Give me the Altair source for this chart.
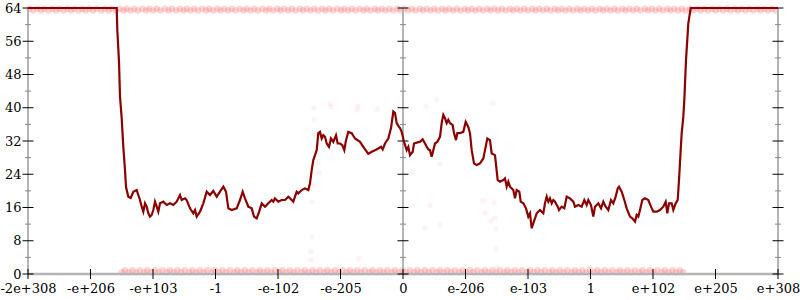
import altair as alt
import pandas as pd

# ---- data ----
x_tick_values = [-6, -5, -4, -3, -2, -1, 0, 1, 2, 3, 4, 5, 6]
x_tick_labels = ["-2e+308", "-e+206", "-e+103", "-1", "-e-102", "-e-205", "0",
                 "e-206", "e-103", "1", "e+102", "e+205", "e+308"]
y_major = [0, 8, 16, 24, 32, 40, 48, 56, 64]
y_minor = [4, 12, 20, 28, 36, 44, 52, 60]
axis_x_positions = [-6, 0, 6]

line_x = [
    -6, -4.581, -4.571, -4.544, -4.528, -4.501, -4.475, -4.448, -4.432, -4.395,
    -4.357, -4.315, -4.261, -4.235, -4.208, -4.181, -4.155, -4.128, -4.101, -4.075,
    -4.048, -4.021, -3.995, -3.968, -3.941, -3.915, -3.888, -3.835, -3.781, -3.728,
    -3.675, -3.621, -3.568, -3.541, -3.488, -3.461, -3.408, -3.355, -3.328, -3.301,
    -3.248, -3.195, -3.141, -3.088, -3.035, -2.981, -2.928, -2.875, -2.832, -2.795,
    -2.741, -2.661, -2.608, -2.565, -2.528, -2.475, -2.421, -2.384, -2.341, -2.304,
    -2.261, -2.208, -2.155, -2.101, -2.075, -2.048, -1.995, -1.941, -1.888, -1.835,
    -1.781, -1.755, -1.728, -1.701, -1.675, -1.621, -1.568, -1.515, -1.488, -1.461,
    -1.435, -1.381, -1.355, -1.328, -1.301, -1.275, -1.248, -1.221, -1.184, -1.152,
    -1.115, -1.072, -1.045, -1.008, -0.971, -0.939, -0.912, -0.875, -0.821, -0.768,
    -0.688, -0.635, -0.555, -0.501, -0.448, -0.395, -0.352, -0.325, -0.288, -0.235,
    -0.192, -0.155, -0.128, -0.101, -0.064, -0.048, -0.021, 0.016, 0.059, 0.085,
    0.112, 0.155, 0.176, 0.219, 0.272, 0.315, 0.352, 0.379, 0.405, 0.432,
    0.459, 0.485, 0.512, 0.549, 0.592, 0.619, 0.645, 0.672, 0.699, 0.725,
    0.752, 0.795, 0.816, 0.848, 0.869, 0.912, 0.965, 1.003, 1.045, 1.072,
    1.099, 1.136, 1.179, 1.232, 1.285, 1.312, 1.349, 1.392, 1.419, 1.472,
    1.515, 1.552, 1.605, 1.632, 1.659, 1.685, 1.712, 1.765, 1.792, 1.819,
    1.861, 1.883, 1.925, 1.968, 2.005, 2.032, 2.059, 2.085, 2.112, 2.139,
    2.192, 2.245, 2.272, 2.299, 2.325, 2.352, 2.379, 2.405, 2.432, 2.475,
    2.496, 2.539, 2.581, 2.619, 2.672, 2.725, 2.752, 2.805, 2.859, 2.901,
    2.939, 2.965, 3.008, 3.045, 3.072, 3.125, 3.168, 3.205, 3.243, 3.285,
    3.328, 3.365, 3.403, 3.435, 3.456, 3.499, 3.541, 3.579, 3.632, 3.669,
    3.712, 3.739, 3.765, 3.792, 3.829, 3.872, 3.925, 3.968, 4.005, 4.059,
    4.112, 4.165, 4.203, 4.229, 4.256, 4.299, 4.325, 4.363, 4.395, 4.416,
    4.437, 4.459, 4.485, 4.501, 4.528, 4.565, 4.603, 6,
]
line_y = [
    64, 64, 58.7, 51.1, 42.7, 37.5, 30.6, 25.0, 21.0, 18.6,
    18.3, 19.8, 20.2, 19.0, 17.8, 16.2, 15.0, 17.0, 16.2, 14.6,
    13.8, 14.2, 15.4, 17.4, 16.2, 15.0, 17.0, 17.4, 16.6, 17.0,
    16.6, 17.4, 19.0, 17.8, 18.2, 17.8, 15.8, 14.6, 15.4, 13.8,
    15.0, 17.0, 19.8, 19.0, 20.0, 18.6, 19.8, 21.0, 19.8, 15.8,
    15.4, 15.8, 17.8, 19.8, 18.2, 16.2, 15.8, 13.8, 13.4, 14.9,
    17.0, 16.2, 17.0, 17.8, 17.4, 18.2, 17.4, 17.8, 17.8, 18.6,
    17.8, 17.4, 18.6, 19.8, 19.4, 20.2, 20.6, 20.2, 21.8, 25.0,
    27.4, 29.8, 33.9, 34.2, 32.6, 33.4, 33.0, 31.4, 30.6, 32.6,
    31.8, 33.4, 31.4, 31.4, 31.0, 29.8, 32.2, 34.2, 33.9, 32.6,
    31.8, 30.6, 28.9, 29.4, 29.8, 30.2, 30.6, 30.0, 31.4, 32.6,
    35.1, 39.1, 38.7, 36.3, 35.4, 35.1, 34.2, 31.8, 29.8, 30.6,
    28.6, 29.4, 31.4, 31.6, 31.8, 32.4, 31.4, 30.6, 30.0, 29.8,
    28.2, 29.8, 31.4, 31.8, 33.0, 36.3, 38.3, 37.5, 36.3, 37.1,
    36.3, 35.8, 33.9, 32.2, 33.9, 33.9, 34.2, 36.6, 35.4, 33.9,
    29.8, 26.6, 26.2, 26.6, 27.8, 29.8, 32.6, 32.2, 29.0, 28.6,
    22.6, 22.2, 22.6, 23.0, 21.0, 22.2, 21.0, 20.2, 18.2, 20.2,
    19.8, 17.4, 17.0, 15.8, 13.8, 14.6, 11.0, 12.2, 13.4, 14.6,
    15.4, 14.6, 17.0, 18.6, 17.4, 18.2, 17.0, 17.8, 17.4, 16.2,
    15.4, 16.2, 15.8, 18.6, 18.2, 17.4, 16.2, 16.6, 16.2, 17.8,
    16.6, 17.8, 16.6, 13.8, 16.2, 17.0, 15.8, 17.4, 16.2, 15.4,
    17.8, 17.0, 18.6, 20.6, 21.0, 19.8, 17.8, 15.8, 13.8, 13.4,
    12.6, 14.2, 13.8, 15.4, 17.8, 18.2, 17.8, 16.2, 15.0, 15.0,
    15.4, 16.2, 17.4, 14.6, 17.0, 17.0, 15.4, 17.0, 17.8, 22.6,
    28.2, 33.9, 37.8, 41.9, 51.5, 60.3, 64, 64,
]

# sample points: band at the top (error ~64) and at the bottom (error ~0)
top_x = [-5.98, -5.85, -5.74, -5.61, -5.5, -5.37, -5.26, -5.13, -5.02, -4.9,
         -4.77, -4.66, -4.53, -4.42, -4.3, -4.17, -4.06, -3.94, -3.81, -3.7,
         -3.57, -3.46, -3.34, -3.21, -3.1, -2.97, -2.86, -2.74, -2.61, -2.5,
         -2.38, -2.25, -2.14, -2.01, -1.9, -1.78, -1.65, -1.54, -1.42, -1.29,
         -1.18, -1.05, -0.94, -0.82, -0.69, -0.58, -0.45, -0.34, -0.22, -0.09,
         0.02, 0.14, 0.27, 0.38, 0.5, 0.63, 0.74, 0.86, 0.99, 1.1,
         1.22, 1.35, 1.46, 1.58, 1.71, 1.82, 1.94, 2.07, 2.18, 2.3,
         2.43, 2.54, 2.66, 2.79, 2.9, 3.02, 3.15, 3.26, 3.38, 3.51,
         3.62, 3.74, 3.87, 3.98, 4.1, 4.23, 4.34, 4.46, 4.59, 4.7,
         4.82, 4.95, 5.06, 5.18, 5.31, 5.42, 5.54, 5.67, 5.78, 5.9]
top_x2 = [-5.92, -5.79, -5.67, -5.55, -5.43, -5.31, -5.19, -5.08, -4.96, -4.83,
          -4.71, -4.59, -4.47, -4.36, -4.24, -4.11, -4.0, -3.88, -3.75, -3.63,
          -3.51, -3.4, -3.28, -3.15, -3.04, -2.92, -2.8, -2.68, -2.55, -2.44,
          -2.32, -2.19, -2.08, -1.96, -1.84, -1.72, -1.6, -1.48, -1.36, -1.24,
          -1.12, -0.99, -0.88, -0.76, -0.63, -0.52, -0.4, -0.28, -0.16, -0.04,
          0.08, 0.2, 0.32, 0.44, 0.56, 0.68, 0.8, 0.92, 1.04, 1.16,
          1.28, 1.4, 1.52, 1.64, 1.76, 1.88, 2.0, 2.12, 2.24, 2.36,
          2.48, 2.6, 2.72, 2.84, 2.96, 3.08, 3.2, 3.32, 3.44, 3.56,
          3.68, 3.8, 3.92, 4.04, 4.16, 4.28, 4.4, 4.52, 4.64, 4.76,
          4.88, 5.0, 5.12, 5.24, 5.36, 5.48, 5.6, 5.72, 5.84, 5.96]
top_y = 63.8
top_y2 = 63.4
bottom_x = [-4.5, -4.39, -4.27, -4.14, -4.03, -3.91, -3.78, -3.67, -3.55, -3.42,
            -3.31, -3.19, -3.06, -2.95, -2.83, -2.7, -2.59, -2.47, -2.34, -2.23,
            -2.11, -1.98, -1.87, -1.75, -1.62, -1.51, -1.39, -1.26, -1.15, -1.03,
            -0.9, -0.79, -0.67, -0.54, -0.43, -0.31, -0.18, -0.07, 0.05, 0.18,
            0.29, 0.41, 0.54, 0.65, 0.77, 0.9, 1.01, 1.13, 1.26, 1.37,
            1.49, 1.62, 1.73, 1.85, 1.98, 2.09, 2.21, 2.34, 2.45, 2.57,
            2.7, 2.81, 2.93, 3.06, 3.17, 3.29, 3.42, 3.53, 3.65, 3.78,
            3.89, 4.01, 4.14, 4.25, 4.37, 4.48]
bottom_x2 = [-4.45, -4.33, -4.21, -4.09, -3.97, -3.85, -3.73, -3.61, -3.49, -3.37,
             -3.25, -3.13, -3.01, -2.89, -2.77, -2.65, -2.53, -2.41, -2.29, -2.17,
             -2.05, -1.93, -1.81, -1.69, -1.57, -1.45, -1.33, -1.21, -1.09, -0.97,
             -0.85, -0.73, -0.61, -0.49, -0.37, -0.25, -0.13, -0.01, 0.11, 0.23,
             0.35, 0.47, 0.59, 0.71, 0.83, 0.95, 1.07, 1.19, 1.31, 1.43,
             1.55, 1.67, 1.79, 1.91, 2.03, 2.15, 2.27, 2.39, 2.51, 2.63,
             2.75, 2.87, 2.99, 3.11, 3.23, 3.35, 3.47, 3.59, 3.71, 3.83,
             3.95, 4.07, 4.19, 4.31, 4.43]
bottom_y = 0.4
bottom_y2 = 0.9

scatter_x = [-1.424, -1.168, -1.152, -0.72, -0.736, -0.416, -1.424, -1.424, -1.36, -1.344,
             -1.44, -1.456, -1.456, -1.472, -1.472, -0.704, 0.144, 0.368, 0.544, 1.44,
             0.592, 0.432, 0.352, 0.592, 1.28, 1.456, 1.312, 1.408, 1.472, 1.488,
             1.488, 1.504]
scatter_y = [39.9, 40.9, 40.2, 40.4, 39.5, 39.5, 37.1, 33.4, 26.7, 24.3,
             21.4, 17.3, 8.9, 5.5, 3.4, 3.8, 24.3, 40.4, 41.9, 41.1,
             26.5, 16.4, 11.1, 11.8, 17.6, 17.1, 14.7, 12.8, 13.5, 10.8,
             6.0, 1.7]

# ---- tables ----
line_df = pd.DataFrame({"x": line_x, "y": line_y, "i": range(len(line_x))})
band_df = pd.DataFrame({
    "x": top_x + top_x2 + bottom_x + bottom_x2,
    "y": [top_y] * len(top_x) + [top_y2] * len(top_x2)
         + [bottom_y] * len(bottom_x) + [bottom_y2] * len(bottom_x2),
})
scatter_df = pd.DataFrame({"x": scatter_x, "y": scatter_y})
vaxis_df = pd.DataFrame({"x": axis_x_positions, "y0": [0] * 3, "y1": [64] * 3})
haxis_df = pd.DataFrame({"x0": [-6], "x1": [6], "y": [0]})
ymaj_df = pd.DataFrame([{"x": ax, "y": v} for ax in axis_x_positions for v in y_major])
ymin_df = pd.DataFrame([{"x": ax, "y": v} for ax in axis_x_positions for v in y_minor])
xmaj_df = pd.DataFrame({"x": x_tick_values, "y": [0] * len(x_tick_values)})

FONT = "DejaVu Serif"
sx = alt.Scale(domain=[-6, 6], nice=False, zero=False)
sy = alt.Scale(domain=[0, 64], nice=False, zero=False)
label_expr = "[" + ",".join("'%s'" % s for s in x_tick_labels) + "][datum.value + 6]"

x_axis = alt.Axis(values=x_tick_values, labelExpr=label_expr, domain=False, ticks=False,
                  grid=False, title=None, labelFont=FONT, labelFontSize=13,
                  labelColor="black", labelPadding=8, labelFlush=False, labelOverlap=False)
y_axis = alt.Axis(values=y_major, domain=False, ticks=False, grid=False, title=None,
                  labelFont=FONT, labelFontSize=13, labelColor="black", labelPadding=7,
                  labelFlush=False, labelOverlap=False)

X = lambda f: alt.X(f, scale=sx, axis=x_axis)
Y = lambda f: alt.Y(f, scale=sy, axis=y_axis)

bands = alt.Chart(band_df).mark_circle(color="red", opacity=0.17, size=42).encode(
    x=X("x:Q"), y=Y("y:Q"))
scatter = alt.Chart(scatter_df).mark_circle(color="red", opacity=0.05, size=30).encode(
    x=X("x:Q"), y=Y("y:Q"))

GRAY = "#b4b4b4"
vrules = alt.Chart(vaxis_df).mark_rule(color=GRAY, strokeWidth=2).encode(
    x=X("x:Q"), y=Y("y0:Q"), y2="y1:Q")
hrule = alt.Chart(haxis_df).mark_rule(color=GRAY, strokeWidth=2.5).encode(
    x=X("x0:Q"), x2="x1:Q", y=Y("y:Q"))

ymin_ticks = alt.Chart(ymin_df).mark_tick(orient="horizontal", size=6, thickness=1,
                                          color="#888888", opacity=1).encode(
    x=X("x:Q"), y=Y("y:Q"))
ymaj_ticks = alt.Chart(ymaj_df).mark_tick(orient="horizontal", size=11, thickness=1,
                                          color="black", opacity=1).encode(
    x=X("x:Q"), y=Y("y:Q"))
xmaj_ticks = alt.Chart(xmaj_df).mark_tick(orient="vertical", size=10, thickness=1,
                                          color="black", opacity=1).encode(
    x=X("x:Q"), y=Y("y:Q"))

line = alt.Chart(line_df).mark_line(color="#8b0000", strokeWidth=2.2).encode(
    x=X("x:Q"), y=Y("y:Q"), order="i:Q")

chart = alt.layer(bands, scatter, vrules, hrule, ymin_ticks, ymaj_ticks, xmaj_ticks, line).properties(
    width=750, height=266,
    autosize=alt.AutoSizeParams(type="none"),
    padding={"left": 28, "top": 8, "right": 22, "bottom": 26},
    background="white",
).configure_view(strokeWidth=0)

chart.save("out.html", embed_options={"renderer": "svg", "actions": False})
